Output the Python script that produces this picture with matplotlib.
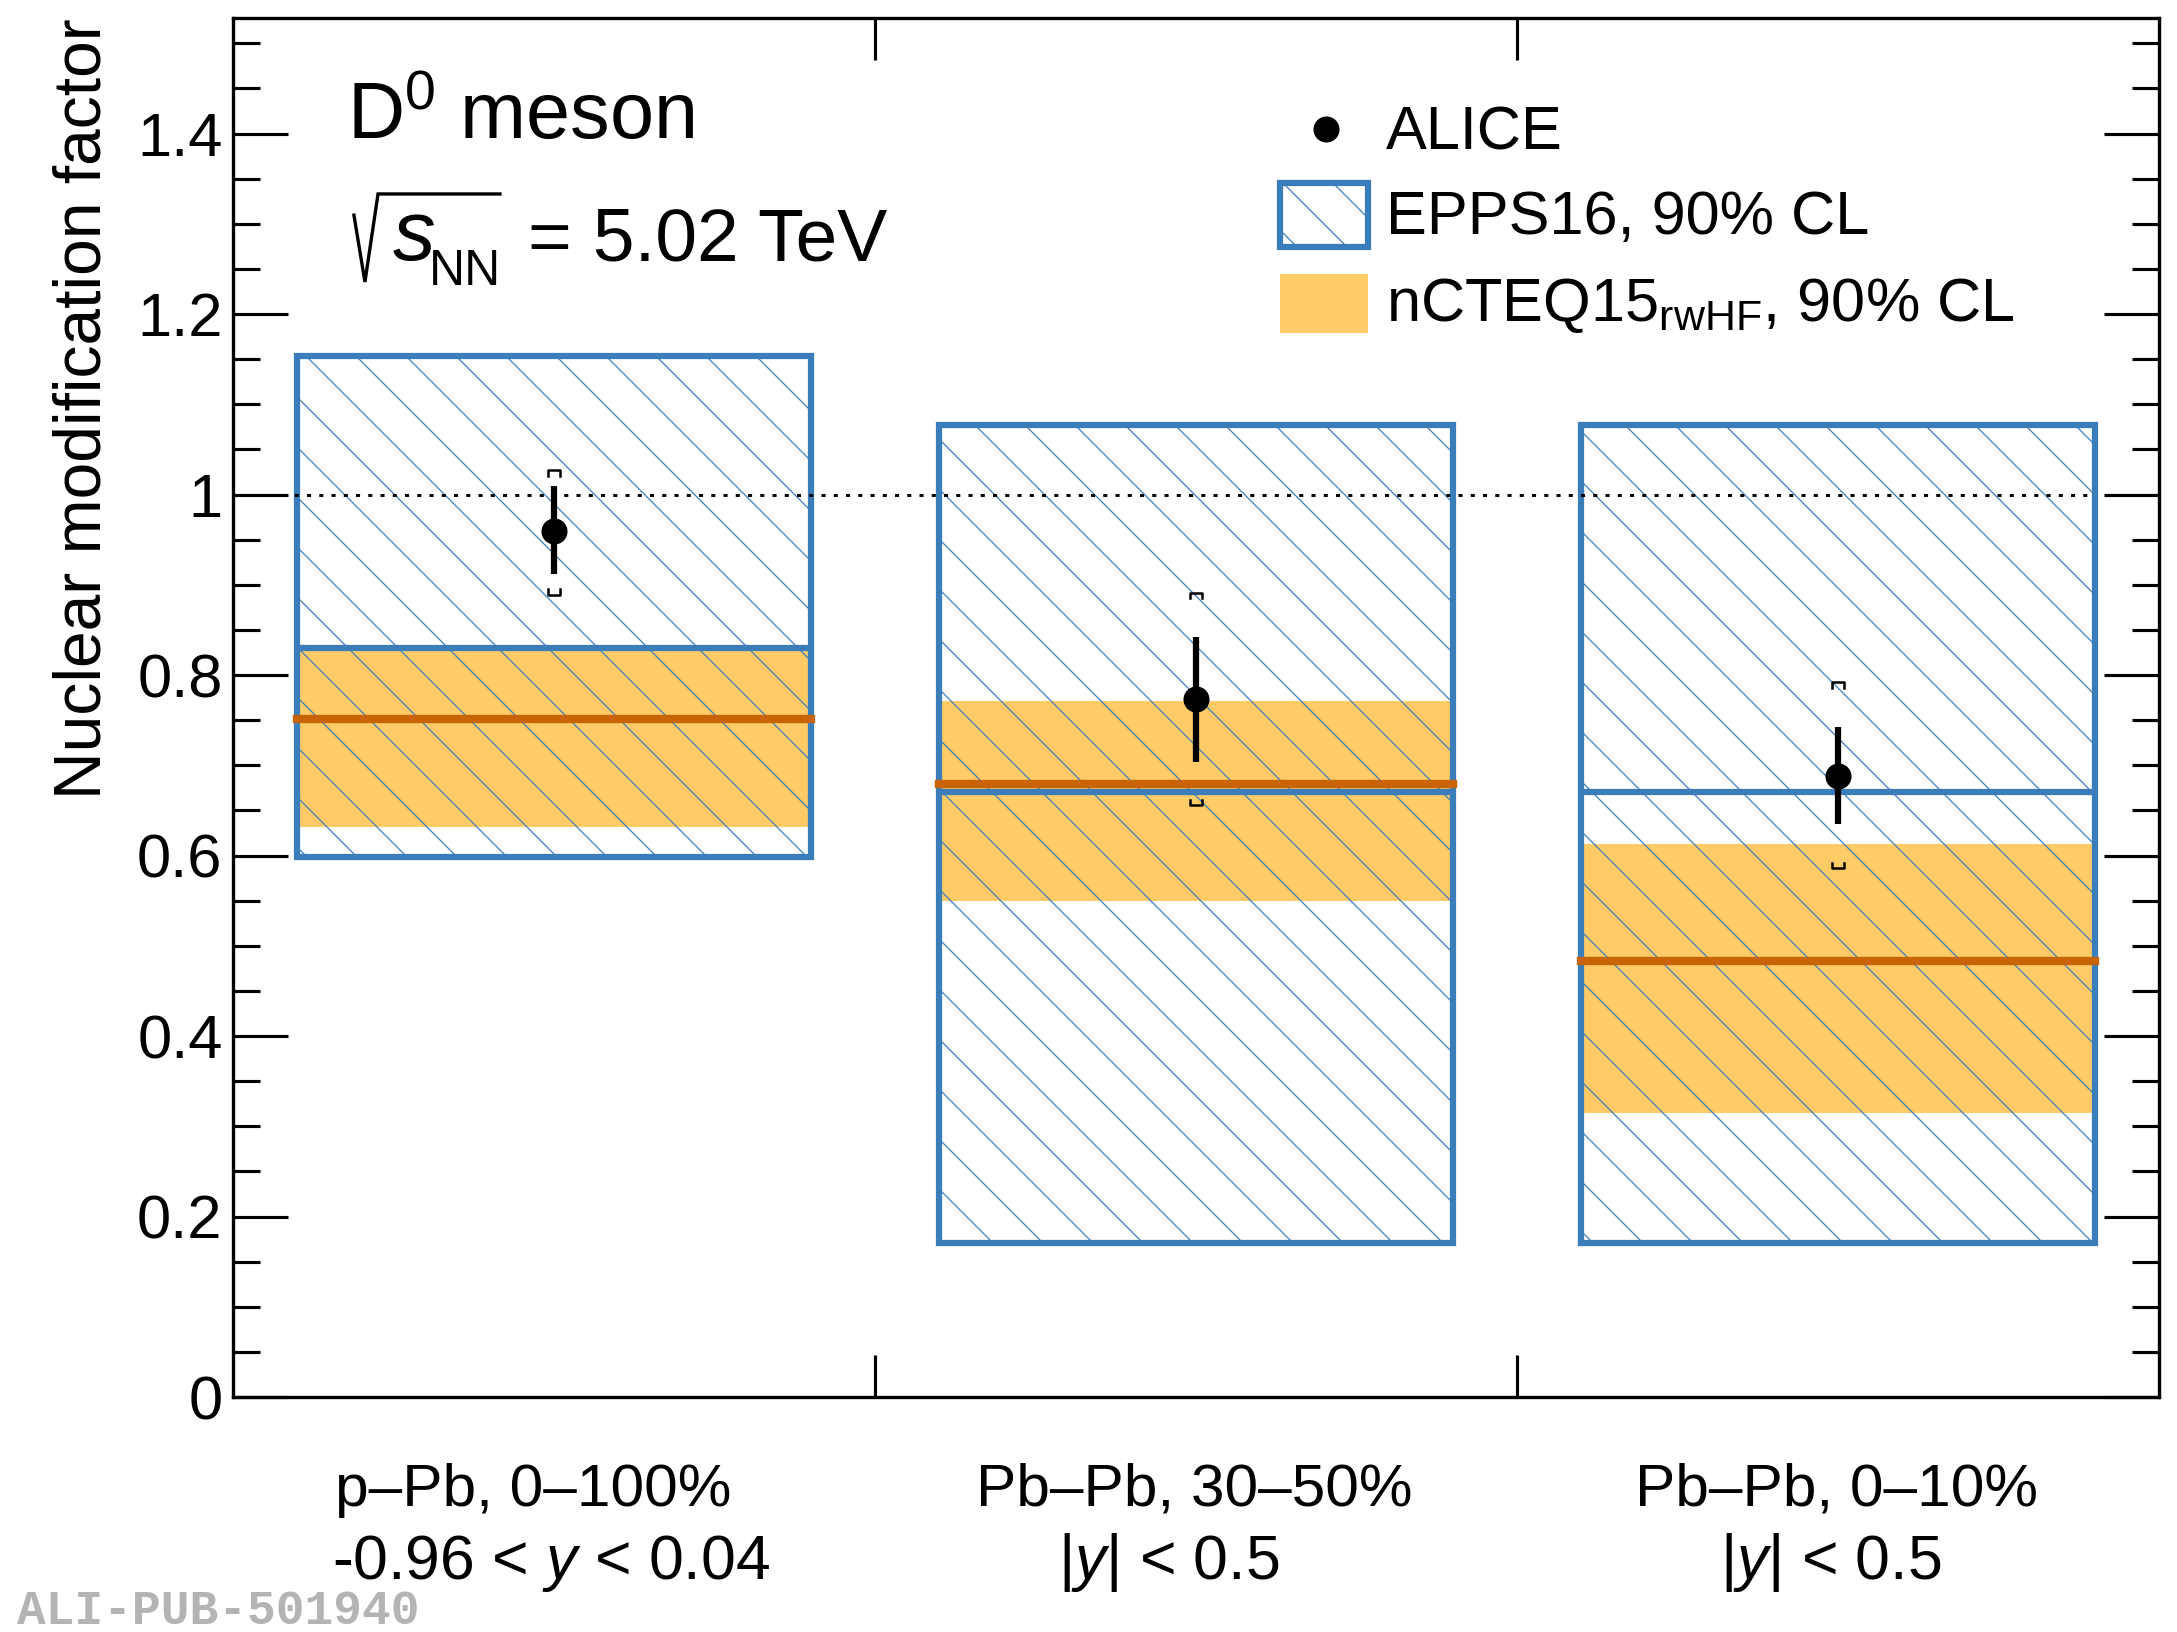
import matplotlib
matplotlib.use('Agg')
import matplotlib.pyplot as plt
from matplotlib.ticker import FixedLocator, MultipleLocator, FuncFormatter
from matplotlib.patches import Rectangle
from matplotlib.lines import Line2D

# categories (one bin each)
systems = ['p–Pb, 0–100%', 'Pb–Pb, 30–50%', 'Pb–Pb, 0–10%']
rapidity = ['-0.96 < $y$ < 0.04', '|$y$| < 0.5', '|$y$| < 0.5']
bin_centers = [0.5, 1.5, 2.5]

# ALICE D0 nuclear modification factor
alice_val = [0.960, 0.773, 0.688]
alice_stat_lo = [0.912, 0.704, 0.635]
alice_stat_hi = [1.009, 0.842, 0.742]
alice_sys_lo = [0.889, 0.656, 0.586]
alice_sys_hi = [1.027, 0.891, 0.792]

# EPPS16, 90% CL
epps_central = [0.830, 0.670, 0.670]
epps_lo = [0.598, 0.171, 0.171]
epps_hi = [1.153, 1.077, 1.077]

# nCTEQ15 rwHF, 90% CL
ncteq_central = [0.751, 0.679, 0.483]
ncteq_lo = [0.632, 0.550, 0.315]
ncteq_hi = [0.828, 0.771, 0.613]

# label placement (x of each text line, data units)
line1_x = [0.467, 1.497, 2.498]
line2_x = [0.496, 1.458, 2.489]

BLUE = '#3b7dbb'
ORANGE = '#fecb66'
DARKORANGE = '#c96406'

plt.rcParams['font.family'] = ['Liberation Sans', 'DejaVu Sans']
plt.rcParams['mathtext.fontset'] = 'custom'
plt.rcParams['mathtext.rm'] = 'Liberation Sans'
plt.rcParams['mathtext.it'] = 'Liberation Sans:italic'
plt.rcParams['mathtext.bf'] = 'Liberation Sans:bold'
plt.rcParams['hatch.linewidth'] = 0.6

W, H, DPI = 2177, 1632, 150
fig = plt.figure(figsize=(W / DPI, H / DPI), dpi=DPI)
ax = fig.add_axes([233 / W, (H - 1397) / H, 1926 / W, 1379 / H])

half = 0.4
# nCTEQ band
ax.bar(bin_centers, [h - l for h, l in zip(ncteq_hi, ncteq_lo)], bottom=ncteq_lo,
       width=2 * half, color=ORANGE, linewidth=0, zorder=1)
# EPPS16 hatched boxes
ax.bar(bin_centers, [h - l for h, l in zip(epps_hi, epps_lo)], bottom=epps_lo,
       width=2 * half, fill=False, hatch='\\', edgecolor=BLUE, linewidth=3, zorder=2)
ax.hlines(epps_central, [c - half for c in bin_centers], [c + half for c in bin_centers],
          color=BLUE, linewidth=3, zorder=3)
lc = ax.hlines(ncteq_central, [c - half for c in bin_centers], [c + half for c in bin_centers],
               color=DARKORANGE, linewidth=4, zorder=4)
lc.set_capstyle('projecting')

# unity line
ax.plot([0, 2.9], [1, 1], color='black', linewidth=1.4, linestyle=(0, (1.4, 2.8)), zorder=2.5)

# ALICE points
yerr = [[v - l for v, l in zip(alice_val, alice_stat_lo)],
        [h - v for v, h in zip(alice_val, alice_stat_hi)]]
ax.errorbar(bin_centers, alice_val, yerr=yerr, fmt='o', color='black', markersize=11.5,
            elinewidth=3, capsize=0, zorder=6)
bw, bd = 0.0095, 0.006
for xc, lo, hi in zip(bin_centers, alice_sys_lo, alice_sys_hi):
    ax.plot([xc - bw, xc - bw, xc + bw, xc + bw], [hi - bd, hi, hi, hi - bd],
            color='black', linewidth=1.2, zorder=6)
    ax.plot([xc - bw, xc - bw, xc + bw, xc + bw], [lo + bd, lo, lo, lo + bd],
            color='black', linewidth=1.2, zorder=6)

ax.set_xlim(0, 3)
ax.set_ylim(0, 1.528)
ax.xaxis.set_major_locator(FixedLocator([1, 2]))
ax.set_xticklabels([])
ax.yaxis.set_major_locator(MultipleLocator(0.2))
ax.yaxis.set_minor_locator(MultipleLocator(0.05))
ax.yaxis.set_major_formatter(FuncFormatter(lambda v, p: '%g' % round(v, 2)))
ax.tick_params(axis='both', which='both', direction='in', top=True, right=True, width=1.5)
ax.tick_params(axis='y', which='major', length=26.4, labelsize=29.5, pad=5)
ax.tick_params(axis='y', which='minor', length=13)
ax.tick_params(axis='x', which='major', length=20)
for s in ax.spines.values():
    s.set_linewidth(1.6)

ax.text(-0.0775, 1.0, 'Nuclear modification factor', transform=ax.transAxes, rotation=90,
        ha='center', va='top', fontsize=31.7)

for i in range(3):
    ax.text(line1_x[i], -0.1207, systems[i], ha='center', va='baseline', fontsize=29, clip_on=False)
    ax.text(line2_x[i], -0.2016, rapidity[i], ha='center', va='baseline', fontsize=30, clip_on=False)

ax.text(0.0592, 0.9123, 'D$^{0}$ meson', transform=ax.transAxes, fontsize=38, va='baseline')

# sqrt(s_NN) = 5.02 TeV, radical drawn by hand
ax.add_line(Line2D([0.0628, 0.0685, 0.0753, 0.1386], [0.8570, 0.8086, 0.8724, 0.8724],
                   transform=ax.transAxes, color='black', linewidth=1.6,
                   solid_joinstyle='miter'))
ax.text(0.0831, 0.8245, 's', transform=ax.transAxes, fontsize=41, style='italic', va='baseline')
ax.text(0.1018, 0.8064, 'NN', transform=ax.transAxes, fontsize=24, va='baseline')
ax.text(0.1532, 0.8245, '= 5.02 TeV', transform=ax.transAxes, fontsize=36, va='baseline')

# legend
ax.add_line(Line2D([0.5675], [0.9195], marker='o', color='black', markersize=11.5,
                   transform=ax.transAxes))
ax.add_patch(Rectangle((0.5436, 0.8339), 0.0457, 0.0464, transform=ax.transAxes, fill=False,
                       hatch='\\', edgecolor=BLUE, linewidth=3))
ax.add_patch(Rectangle((0.5436, 0.7716), 0.0457, 0.0428, transform=ax.transAxes,
                       facecolor=ORANGE, linewidth=0))
ax.text(0.5986, 0.9043, 'ALICE', transform=ax.transAxes, fontsize=29.4, va='baseline')
ax.text(0.5986, 0.8434, 'EPPS16, 90% CL', transform=ax.transAxes, fontsize=29.4, va='baseline')
ax.text(0.5986, 0.7803, r'nCTEQ15$_{\mathrm{rwHF}}$, 90% CL', transform=ax.transAxes,
        fontsize=29.4, va='baseline')

fig.text(17 / W, (H - 1624) / H, 'ALI-PUB-501940', family='Liberation Mono', weight='bold',
         color='#b4b4b4', fontsize=23, va='baseline')

fig.savefig('out.png', dpi=DPI)
